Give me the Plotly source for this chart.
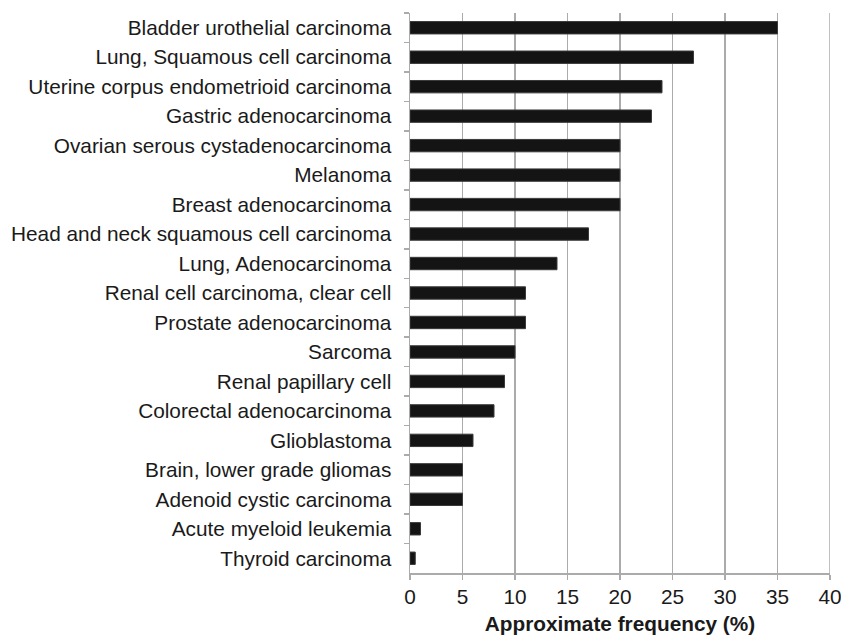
import plotly.graph_objects as go

categories = [
    "Bladder urothelial carcinoma",
    "Lung, Squamous cell carcinoma",
    "Uterine corpus endometrioid carcinoma",
    "Gastric adenocarcinoma",
    "Ovarian serous cystadenocarcinoma",
    "Melanoma",
    "Breast adenocarcinoma",
    "Head and neck squamous cell carcinoma",
    "Lung, Adenocarcinoma",
    "Renal cell carcinoma, clear cell",
    "Prostate adenocarcinoma",
    "Sarcoma",
    "Renal papillary cell",
    "Colorectal adenocarcinoma",
    "Glioblastoma",
    "Brain, lower grade gliomas",
    "Adenoid cystic carcinoma",
    "Acute myeloid leukemia",
    "Thyroid carcinoma",
]
values = [35, 27, 24, 23, 20, 20, 20, 17, 14, 11, 11, 10, 9, 8, 6, 5, 5, 1, 0.5]
x_ticks = [0, 5, 10, 15, 20, 25, 30, 35, 40]

fig = go.Figure(
    go.Bar(
        x=values,
        y=categories,
        orientation="h",
        marker=dict(color="#141414", line=dict(color="#3a3a3a", width=1)),
        width=0.42,
        hoverinfo="skip",
    )
)

font_family = "Liberation Sans, Arial, Helvetica, sans-serif"
grid_col = "#ababab"

fig.update_layout(
    width=841,
    height=638,
    margin=dict(l=410, r=11, t=13, b=65, autoexpand=False),
    plot_bgcolor="white",
    paper_bgcolor="white",
    showlegend=False,
    font=dict(family=font_family, size=20.8, color="#1a1a1a"),
    xaxis=dict(
        range=[0, 40],
        tickvals=x_ticks,
        ticktext=[str(t) for t in x_ticks],
        showgrid=True,
        gridcolor=grid_col,
        gridwidth=1.5,
        showline=True,
        linecolor=grid_col,
        linewidth=1.5,
        ticks="outside",
        ticklen=5,
        tickcolor=grid_col,
        tickwidth=1.5,
        zeroline=False,
        automargin=False,
        ticklabeloverflow="allow",
        tickfont=dict(size=20.8),
        ticklabelstandoff=0,
        title=dict(
            text="<b>Approximate frequency (%)</b>",
            font=dict(size=20.8),
            standoff=9,
        ),
        fixedrange=True,
    ),
    yaxis=dict(
        autorange="reversed",
        showgrid=False,
        showline=True,
        linecolor=grid_col,
        linewidth=1.5,
        ticks="outside",
        tickson="boundaries",
        ticklen=5,
        tickcolor=grid_col,
        tickwidth=1.5,
        automargin=False,
        tickfont=dict(size=20.8),
        ticklabelstandoff=13,
        fixedrange=True,
    ),
)

# gridline at the axis end (plotly drops grid lines lying on the plot edge)
fig.add_vline(x=x_ticks[-1], line=dict(color=grid_col, width=1.5), layer="below")

fig.write_html(
    "out.html",
    config={"displayModeBar": False, "staticPlot": True},
    post_script="document.body.style.margin='0';",
)
